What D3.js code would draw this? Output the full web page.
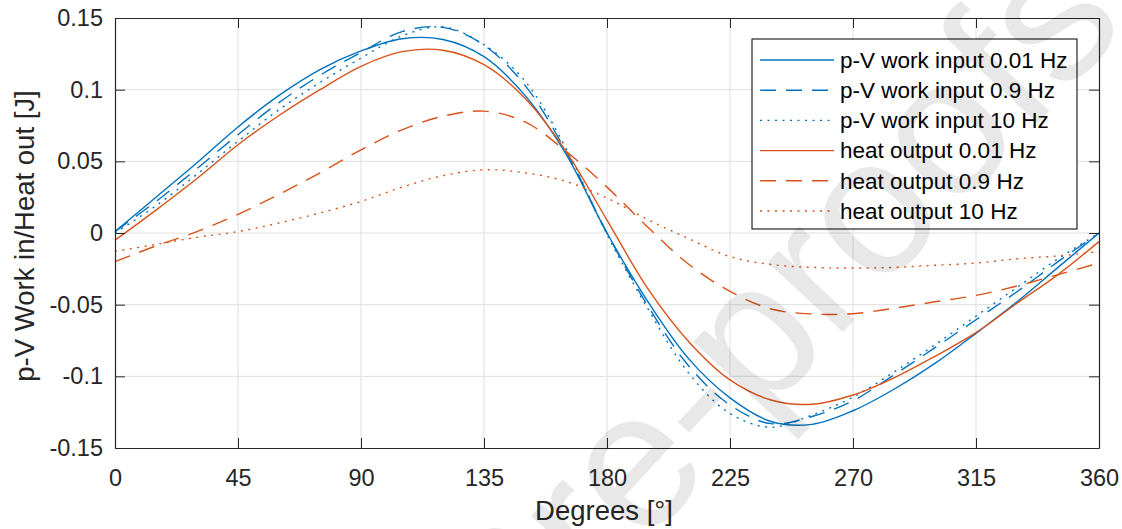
<!DOCTYPE html>
<html>
<head>
<meta charset="utf-8">
<script src="https://cdn.jsdelivr.net/npm/d3@7"></script>
<style>
  body { margin: 0; background: #fff; }
  svg { display: block; font-family: Arial, "Liberation Sans", Helvetica, sans-serif; }
</style>
</head>
<body>
<svg id="chart"></svg>
<script>
// crank angle, degrees
const angles = [0, 15, 30, 45, 60, 75, 90, 105, 120, 135, 150, 165, 180, 195, 210, 225, 240, 255, 270, 285, 300, 315, 330, 345, 360]

// p-V work input [J]
const work001 = [0.001, 0.025, 0.049, 0.074, 0.096, 0.114, 0.127, 0.1355, 0.135, 0.123, 0.096, 0.055, 0.000, -0.048, -0.088, -0.115, -0.1315, -0.1335, -0.124, -0.109, -0.091, -0.070, -0.048, -0.024, 0.000]
const work09 = [0.001, 0.022, 0.045, 0.0686, 0.091, 0.110, 0.126, 0.1405, 0.1435, 0.131, 0.103, 0.057, 0.000, -0.051, -0.093, -0.120, -0.133, -0.128, -0.117, -0.099, -0.080, -0.0605, -0.041, -0.020, 0.000]
const work10 = [0.000, 0.019, 0.041, 0.064, 0.086, 0.105, 0.122, 0.1375, 0.1438, 0.1314, 0.106, 0.059, -0.001, -0.053, -0.098, -0.126, -0.1355, -0.127, -0.1145, -0.097, -0.078, -0.058, -0.038, -0.018, 0.000]

// heat output [J]
const heat001 = [-0.005, 0.016, 0.038, 0.0616, 0.082, 0.100, 0.1163, 0.1265, 0.1275, 0.1174, 0.094, 0.057, 0.009, -0.039, -0.076, -0.1025, -0.1165, -0.1195, -0.113, -0.101, -0.086, -0.0695, -0.049, -0.029, -0.006]
const heat09 = [-0.020, -0.009, 0.001, 0.013, 0.027, 0.042, 0.058, 0.072, 0.0815, 0.085, 0.0775, 0.057, 0.032, 0.004, -0.022, -0.0407, -0.053, -0.0565, -0.0563, -0.0525, -0.048, -0.0435, -0.037, -0.029, -0.021]
const heat10 = [-0.0128, -0.008, -0.003, 0.001, 0.007, 0.014, 0.022, 0.032, 0.040, 0.0441, 0.042, 0.036, 0.0244, 0.0093, -0.004, -0.0165, -0.022, -0.024, -0.0244, -0.024, -0.0225, -0.021, -0.018, -0.016, -0.013]

const xTicks = [0, 45, 90, 135, 180, 225, 270, 315, 360]
const yTicks = [-0.15, -0.1, -0.05, 0, 0.05, 0.1, 0.15]

const blue = '#0072bd'
const orange = '#d95319'

const series = [
	{ name: 'p-V work input 0.01 Hz', values: work001, color: blue, dash: null },
	{ name: 'p-V work input 0.9 Hz', values: work09, color: blue, dash: '16,10' },
	{ name: 'p-V work input 10 Hz', values: work10, color: blue, dash: '2,5.5' },
	{ name: 'heat output 0.01 Hz', values: heat001, color: orange, dash: null },
	{ name: 'heat output 0.9 Hz', values: heat09, color: orange, dash: '16,10' },
	{ name: 'heat output 10 Hz', values: heat10, color: orange, dash: '2,5.5' }
]

const width = 1122
const height = 529
const margin = { top: 18, right: 23, bottom: 81, left: 115 }
const innerW = width - margin.left - margin.right
const innerH = height - margin.top - margin.bottom
const axisColor = '#262626'
const tickLen = 10

const svg = d3.select('#chart')
	.attr('width', width)
	.attr('height', height)

const x = d3.scaleLinear().domain([0, 360]).range([0, innerW])
const y = d3.scaleLinear().domain([-0.15, 0.15]).range([innerH, 0])

const g = svg.append('g')
	.attr('transform', `translate(${margin.left},${margin.top})`)

g.append('rect')
	.attr('width', innerW)
	.attr('height', innerH)
	.attr('fill', '#fff')

// grid
g.append('g').selectAll('line')
	.data(xTicks.slice(1, -1))
	.join('line')
	.attr('x1', d => x(d)).attr('x2', d => x(d))
	.attr('y1', 0).attr('y2', innerH)
	.attr('stroke', '#dfdfdf')
	.attr('stroke-width', 1)

g.append('g').selectAll('line')
	.data(yTicks.slice(1, -1))
	.join('line')
	.attr('x1', 0).attr('x2', innerW)
	.attr('y1', d => y(d)).attr('y2', d => y(d))
	.attr('stroke', '#dfdfdf')
	.attr('stroke-width', 1)

// curves
const line = d3.line()
	.x((d, i) => x(angles[i]))
	.y(d => y(d))
	.curve(d3.curveCatmullRom.alpha(0.5))

g.append('g').selectAll('path')
	.data(series)
	.join('path')
	.attr('d', d => line(d.values))
	.attr('fill', 'none')
	.attr('stroke', d => d.color)
	.attr('stroke-width', 1.4)
	.attr('stroke-dasharray', d => d.dash)

// axes: ticks inward on all four sides
const xAxisB = d3.axisBottom(x).tickValues(xTicks).tickSizeInner(-tickLen).tickSizeOuter(0).tickPadding(21)
const xAxisT = d3.axisTop(x).tickValues(xTicks).tickSizeInner(-tickLen).tickSizeOuter(0).tickFormat('')
const yAxisL = d3.axisLeft(y).tickValues(yTicks).tickSizeInner(-tickLen).tickSizeOuter(0).tickPadding(12)
	.tickFormat(d => d === 0 ? '0' : String(+d.toFixed(2)))
const yAxisR = d3.axisRight(y).tickValues(yTicks).tickSizeInner(-tickLen).tickSizeOuter(0).tickFormat('')

function styleAxis(sel) {
	sel.select('.domain').attr('stroke', axisColor).attr('stroke-width', 1.2)
	sel.selectAll('.tick line').attr('stroke', axisColor).attr('stroke-width', 1)
	sel.selectAll('.tick text').attr('fill', axisColor).attr('font-size', 23.5)
		.attr('font-family', 'Arial, "Liberation Sans", sans-serif')
}

g.append('g').attr('transform', `translate(0,${innerH})`).call(xAxisB).call(styleAxis)
g.append('g').call(xAxisT).call(styleAxis)
g.append('g').call(yAxisL).call(styleAxis)
g.append('g').attr('transform', `translate(${innerW},0)`).call(yAxisR).call(styleAxis)

// axis titles
svg.append('text')
	.attr('x', 604)
	.attr('y', 520)
	.attr('text-anchor', 'middle')
	.attr('font-size', 27.5)
	.attr('fill', axisColor)
	.text('Degrees [°]')

svg.append('text')
	.attr('transform', `translate(34,236) rotate(-90)`)
	.attr('text-anchor', 'middle')
	.attr('font-size', 27.5)
	.attr('fill', axisColor)
	.text('p-V Work in/Heat out [J]')

// legend
const legend = svg.append('g').attr('transform', 'translate(752,39)')
legend.append('rect')
	.attr('width', 325)
	.attr('height', 190)
	.attr('fill', '#fff')
	.attr('stroke', axisColor)
	.attr('stroke-width', 1.2)

const rows = legend.selectAll('.row')
	.data(series)
	.join('g')
	.attr('class', 'row')
	.attr('transform', (d, i) => `translate(0,${21 + i * 30.2})`)

rows.append('line')
	.attr('x1', 8).attr('x2', 82)
	.attr('stroke', d => d.color)
	.attr('stroke-width', 1.4)
	.attr('stroke-dasharray', d => d.dash)

rows.append('text')
	.attr('x', 88)
	.attr('dy', '0.35em')
	.attr('font-size', 22.5)
	.attr('fill', '#000')
	.text(d => d.name)

// faint watermark laid over the figure
const wm = svg.append('text')
	.attr('font-size', 195)
	.attr('fill', '#000')
	.attr('fill-opacity', 0.09)
	.attr('font-family', 'Arial, "Liberation Sans", sans-serif')
	.text('Journal Pre-proofs')
const pre = wm.node().getSubStringLength(0, 14)
const ow = wm.node().getSubStringLength(14, 1)
const along = pre + ow / 2
const ang = -47
const rad = ang * Math.PI / 180
const bx = 915 - along * Math.cos(rad)
const by = 255 - along * Math.sin(rad)
wm.attr('transform', `translate(${bx},${by}) rotate(${ang})`)
</script>
</body>
</html>
